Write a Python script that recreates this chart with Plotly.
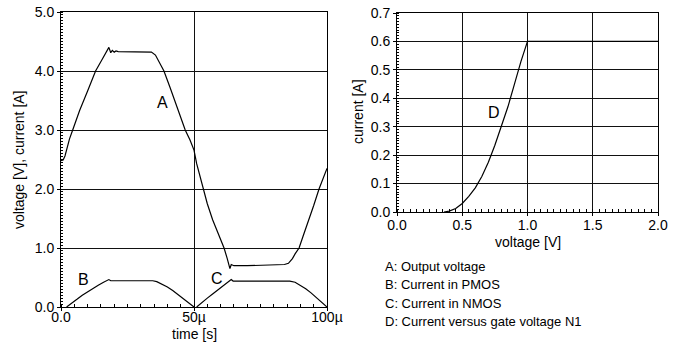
import plotly.graph_objects as go

# ---- Data (left chart: time in microseconds) ----
t_A = [0, 0.8, 1.5, 2.2, 3.2, 4.4, 7, 10, 13, 15.5, 17.2, 18, 18.7, 19.3, 20, 20.7, 21.5, 25, 30, 33,
       34, 35.5, 37, 38.7, 41, 43, 45, 46.7, 48.5, 50,
       51, 52, 53.4, 55, 57, 59, 61.3, 62.5, 63.5, 64, 65, 70, 80, 84, 85.5, 87, 88, 89.5,
       91, 93, 95, 97, 98.5, 100]
v_A = [2.48, 2.49, 2.56, 2.68, 2.85, 3.0, 3.33, 3.66, 4.0, 4.2, 4.34, 4.4, 4.31, 4.35, 4.32, 4.34, 4.33, 4.33, 4.33, 4.33,
       4.32, 4.27, 4.15, 4.0, 3.72, 3.48, 3.22, 3.0, 2.83, 2.66,
       2.43, 2.25, 2.0, 1.75, 1.48, 1.25, 1.0, 0.82, 0.65, 0.72, 0.7, 0.7, 0.71, 0.72, 0.74, 0.82, 0.9, 1.0,
       1.2, 1.45, 1.72, 2.0, 2.17, 2.35]

t_B = [2.1, 4, 6, 8, 10, 12, 14, 16, 18, 18.7, 34.5, 36, 38, 40, 42, 44, 46, 48, 50]
i_B = [0, 0.07, 0.13, 0.2, 0.26, 0.32, 0.37, 0.42, 0.465, 0.445, 0.445, 0.43, 0.39, 0.34, 0.28, 0.21, 0.14, 0.07, 0.0]

t_C = [51, 53, 55, 57, 59, 61, 63, 64, 64.7, 86, 88, 90, 92, 94, 96, 98, 100]
i_C = [0, 0.08, 0.15, 0.22, 0.29, 0.35, 0.42, 0.465, 0.44, 0.44, 0.42, 0.37, 0.31, 0.24, 0.16, 0.08, 0.0]

# ---- Data (right chart) ----
v_D = [0.36, 0.4, 0.45, 0.5, 0.55, 0.6, 0.65, 0.7, 0.75, 0.8, 0.85, 0.9, 0.95, 1.0, 1.03, 2.0]
i_D = [0, 0.003, 0.012, 0.03, 0.055, 0.085, 0.125, 0.175, 0.235, 0.3, 0.37, 0.45, 0.53, 0.6, 0.6, 0.6]

left_xticks = [0, 50, 100]
left_xticklabels = ["0.0", "50µ", "100µ"]
left_yticks = [0, 1, 2, 3, 4, 5]
right_xticks = [0, 0.5, 1.0, 1.5, 2.0]
right_yticks = [0, 0.1, 0.2, 0.3, 0.4, 0.5, 0.6, 0.7]

legend_lines = ["A: Output voltage", "B: Current in PMOS", "C: Current in NMOS",
                "D: Current versus gate voltage N1"]

FONT = "Liberation Sans, Arial, sans-serif"
W, H = 685, 356

fig = go.Figure()
line = dict(color="black", width=1.2)
fig.add_trace(go.Scatter(x=t_A, y=v_A, mode="lines", line=line, xaxis="x", yaxis="y"))
fig.add_trace(go.Scatter(x=t_B, y=i_B, mode="lines", line=line, xaxis="x", yaxis="y"))
fig.add_trace(go.Scatter(x=t_C, y=i_C, mode="lines", line=line, xaxis="x", yaxis="y"))
fig.add_trace(go.Scatter(x=v_D, y=i_D, mode="lines", line=line, xaxis="x2", yaxis="y2"))

tickfont = dict(family=FONT, size=14, color="black")
common = dict(showline=True, linecolor="black", linewidth=1, mirror=True, automargin=False,
              showgrid=True, gridcolor="#111111", gridwidth=1, zeroline=False,
              ticks="outside", ticklen=3, tickcolor="black", tickfont=tickfont)

fig.update_layout(
    width=W, height=H, margin=dict(l=0, r=0, t=0, b=0, autoexpand=False),
    paper_bgcolor="white", plot_bgcolor="white", showlegend=False,
    xaxis=dict(domain=[61 / W, 327 / W], range=[0, 100], tickvals=left_xticks,
               ticktext=left_xticklabels, anchor="y", ticklabelstandoff=-6,
               minor=dict(ticks="inside", dtick=5, ticklen=3, tickcolor="black", showgrid=False),
               **common),
    yaxis=dict(domain=[1 - 307 / H, 1 - 12 / H], range=[0, 5], tickvals=left_yticks,
               tickformat=".1f", anchor="x",
               minor=dict(ticks="inside", dtick=0.05, ticklen=2, tickcolor="black", showgrid=False),
               **common),
    xaxis2=dict(domain=[397 / W, 658 / W], range=[0, 2], tickvals=right_xticks,
                tickformat=".1f", anchor="y2", ticklabelstandoff=-3,
                minor=dict(ticks="inside", dtick=0.05, ticklen=3, tickcolor="black", showgrid=False),
                **common),
    yaxis2=dict(domain=[1 - 212 / H, 1 - 13 / H], range=[0, 0.7], tickvals=right_yticks,
                tickformat=".1f", anchor="x2",
                minor=dict(ticks="inside", dtick=0.01, ticklen=2, tickcolor="black", showgrid=False),
                **common),
)

ann = []
titlefont = dict(family=FONT, size=14, color="black")
# axis titles
ann.append(dict(text="voltage [V], current [A]", x=19 / W, y=1 - 160 / H, xref="paper", yref="paper",
                textangle=-90, showarrow=False, font=titlefont, xanchor="center", yanchor="middle"))
ann.append(dict(text="time [s]", x=194 / W, y=1 - 334 / H, xref="paper", yref="paper",
                showarrow=False, font=titlefont, xanchor="center", yanchor="middle"))
ann.append(dict(text="current [A]", x=358 / W, y=1 - 112 / H, xref="paper", yref="paper",
                textangle=-90, showarrow=False, font=titlefont, xanchor="center", yanchor="middle"))
ann.append(dict(text="voltage [V]", x=528 / W, y=1 - 242 / H, xref="paper", yref="paper",
                showarrow=False, font=titlefont, xanchor="center", yanchor="middle"))
# curve labels
lblfont = dict(family=FONT, size=16, color="black")
ann.append(dict(text="A", x=38.3, y=3.46, xref="x", yref="y", showarrow=False, font=lblfont))
ann.append(dict(text="B", x=8.3, y=0.46, xref="x", yref="y", showarrow=False, font=lblfont))
ann.append(dict(text="C", x=58.6, y=0.49, xref="x", yref="y", showarrow=False, font=lblfont))
ann.append(dict(text="D", x=0.74, y=0.35, xref="x2", yref="y2", showarrow=False, font=lblfont))
# legend text
legfont = dict(family=FONT, size=13, color="black")
for k, (txt, yy) in enumerate(zip(legend_lines, [266, 284.5, 303, 321.5])):
    ann.append(dict(text=txt, x=383 / W, y=1 - yy / H, xref="paper", yref="paper",
                    showarrow=False, font=legfont, xanchor="left", yanchor="middle"))

fig.update_layout(annotations=ann)
fig.write_html("out.html", config={"displayModeBar": False},
               post_script="document.body.style.margin='0';")
